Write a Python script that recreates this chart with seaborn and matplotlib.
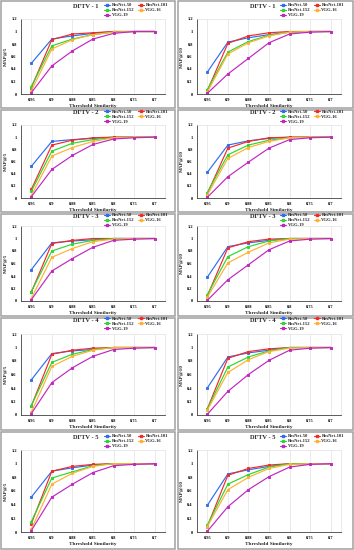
import matplotlib
matplotlib.use("Agg")
import matplotlib.pyplot as plt
from matplotlib.lines import Line2D
from matplotlib.patches import Rectangle
import pandas as pd
import seaborn as sns

thresholds = ["0.95", "0.9", "0.88", "0.85", "0.8", "0.75", "0.7"]
models = ["ResNet-50", "ResNet-101", "ResNet-152", "VGG-16", "VGG-19"]
colors = ["#2f6cf0", "#f42a2a", "#2fd62f", "#ffb133", "#c126c1"]
titles = ["DFTV - 1", "DFTV - 2", "DFTV - 3", "DFTV - 4", "DFTV - 5"]
ylabels = ["MAP@5", "MAP@10"]

# series order: ResNet-50, ResNet-101, ResNet-152, VGG-16, VGG-19
dftv1_map5 = [[0.49, 0.88, 0.93, 0.97, 1.00, 1.00, 1.00],
              [0.10, 0.87, 0.96, 0.98, 1.00, 1.00, 1.00],
              [0.12, 0.77, 0.88, 0.95, 0.99, 1.00, 1.00],
              [0.05, 0.72, 0.87, 0.95, 0.99, 1.00, 1.00],
              [0.02, 0.45, 0.69, 0.88, 0.97, 1.00, 1.00]]
dftv1_map10 = [[0.35, 0.83, 0.90, 0.95, 0.99, 1.00, 1.00],
               [0.05, 0.81, 0.93, 0.98, 1.00, 1.00, 1.00],
               [0.07, 0.67, 0.84, 0.94, 0.99, 1.00, 1.00],
               [0.03, 0.64, 0.82, 0.93, 0.99, 1.00, 1.00],
               [0.01, 0.32, 0.57, 0.82, 0.96, 0.99, 1.00]]
dftv2_map5 = [[0.52, 0.93, 0.96, 0.98, 1.00, 1.00, 1.00],
              [0.14, 0.87, 0.95, 0.99, 1.00, 1.00, 1.00],
              [0.11, 0.77, 0.90, 0.96, 0.99, 1.00, 1.00],
              [0.04, 0.69, 0.83, 0.93, 0.99, 1.00, 1.00],
              [0.02, 0.47, 0.70, 0.88, 0.97, 0.99, 1.00]]
dftv2_map10 = [[0.42, 0.87, 0.94, 0.98, 1.00, 1.00, 1.00],
               [0.07, 0.82, 0.93, 0.99, 1.00, 1.00, 1.00],
               [0.09, 0.71, 0.87, 0.95, 0.99, 1.00, 1.00],
               [0.05, 0.65, 0.83, 0.93, 0.99, 1.00, 1.00],
               [0.01, 0.35, 0.59, 0.82, 0.96, 0.99, 1.00]]
dftv3_map5 = [[0.50, 0.93, 0.96, 0.98, 1.00, 1.00, 1.00],
              [0.14, 0.92, 0.97, 1.00, 1.00, 1.00, 1.00],
              [0.15, 0.80, 0.91, 0.97, 1.00, 1.00, 1.00],
              [0.04, 0.70, 0.84, 0.95, 0.99, 1.00, 1.00],
              [0.02, 0.48, 0.68, 0.86, 0.97, 0.99, 1.00]]
dftv3_map10 = [[0.38, 0.87, 0.93, 0.97, 1.00, 1.00, 1.00],
               [0.08, 0.85, 0.95, 0.99, 1.00, 1.00, 1.00],
               [0.10, 0.71, 0.87, 0.96, 1.00, 1.00, 1.00],
               [0.06, 0.61, 0.78, 0.93, 0.99, 1.00, 1.00],
               [0.01, 0.34, 0.58, 0.82, 0.96, 0.99, 1.00]]
dftv4_map5 = [[0.52, 0.91, 0.95, 0.97, 1.00, 1.00, 1.00],
              [0.13, 0.90, 0.96, 0.99, 1.00, 1.00, 1.00],
              [0.14, 0.78, 0.90, 0.97, 1.00, 1.00, 1.00],
              [0.04, 0.72, 0.87, 0.96, 1.00, 1.00, 1.00],
              [0.02, 0.48, 0.70, 0.87, 0.97, 0.99, 1.00]]
dftv4_map10 = [[0.40, 0.86, 0.92, 0.96, 1.00, 1.00, 1.00],
               [0.09, 0.84, 0.94, 0.98, 1.00, 1.00, 1.00],
               [0.09, 0.71, 0.86, 0.95, 1.00, 1.00, 1.00],
               [0.07, 0.63, 0.82, 0.94, 0.99, 1.00, 1.00],
               [0.01, 0.35, 0.60, 0.81, 0.96, 0.99, 1.00]]
dftv5_map5 = [[0.51, 0.89, 0.94, 0.98, 1.00, 1.00, 1.00],
              [0.12, 0.89, 0.96, 0.99, 1.00, 1.00, 1.00],
              [0.15, 0.79, 0.88, 0.97, 1.00, 1.00, 1.00],
              [0.04, 0.70, 0.86, 0.96, 1.00, 1.00, 1.00],
              [0.02, 0.51, 0.70, 0.87, 0.97, 0.99, 1.00]]
dftv5_map10 = [[0.39, 0.85, 0.91, 0.96, 1.00, 1.00, 1.00],
               [0.08, 0.83, 0.93, 0.98, 1.00, 1.00, 1.00],
               [0.10, 0.70, 0.84, 0.95, 1.00, 1.00, 1.00],
               [0.08, 0.62, 0.80, 0.93, 0.99, 1.00, 1.00],
               [0.01, 0.37, 0.62, 0.81, 0.95, 0.99, 1.00]]

panels = [[dftv1_map5, dftv1_map10], [dftv2_map5, dftv2_map10],
          [dftv3_map5, dftv3_map10], [dftv4_map5, dftv4_map10],
          [dftv5_map5, dftv5_map10]]

sns.set_style("white")
plt.rcParams["font.family"] = ["Liberation Serif", "DejaVu Serif"]
plt.rcParams["font.weight"] = "bold"

W, H = 354.0, 550.0
fig = plt.figure(figsize=(W / 100, H / 100), dpi=100)
fig.patch.set_facecolor("white")

# layout in pixels
col_axes_x = [(21, 165), (197, 341)]
col_box_x = [(1, 175), (178, 353)]
row_axes_y = [(19, 94), (125, 198), (226, 301), (334, 415), (450, 532)]
row_box_y = [(1, 108), (110, 212), (214, 316), (318, 430), (432, 549)]
row_title_y = [6.5, 113, 216.5, 320, 437.5]
col_title_x = [86, 263]
col_legend_x = [104, 280]


def fx(px):
    return px / W


def fy(py):
    return 1 - py / H


for r in range(5):
    for c in range(2):
        bx0, bx1 = col_box_x[c]
        by0, by1 = row_box_y[r]
        fig.patches.append(Rectangle((fx(bx0), fy(by1)), fx(bx1 - bx0), (by1 - by0) / H,
                                     transform=fig.transFigure, facecolor="none",
                                     edgecolor="#a0a0a0", linewidth=1.1, zorder=-10))
        ax0, ax1 = col_axes_x[c]
        ay0, ay1 = row_axes_y[r]
        ax = fig.add_axes([fx(ax0), fy(ay1), fx(ax1 - ax0), (ay1 - ay0) / H])
        ax.set_facecolor("none")
        series = panels[r][c]
        df = pd.DataFrame([
            {"Threshold": thresholds[i], "value": series[m][i], "model": models[m]}
            for m in range(len(models)) for i in range(len(thresholds))
        ])
        sns.pointplot(data=df, x="Threshold", y="value", hue="model", order=thresholds,
                      hue_order=models, palette=colors, markers="s", markersize=1.9,
                      linewidth=0.85, errorbar=None, legend=False, ax=ax)
        ax.set_xlim(-0.5, len(thresholds) - 0.5)
        ax.set_ylim(0, 1.2)
        ax.set_yticks([0, 0.2, 0.4, 0.6, 0.8, 1.0, 1.2])
        ax.set_yticklabels(["0", "0.2", "0.4", "0.6", "0.8", "1", "1.2"])
        ax.tick_params(axis="both", labelsize=3.2, length=1.5, width=0.5, pad=1.5,
                       colors="black")
        ax.tick_params(axis="x", length=0, pad=3)
        for lab in ax.get_xticklabels() + ax.get_yticklabels():
            lab.set_fontweight("bold")
        ax.grid(axis="x", color="#e2e2e2", linewidth=0.5)
        ax.set_axisbelow(True)
        for side in ["top", "right"]:
            ax.spines[side].set_color("#e2e2e2")
            ax.spines[side].set_linewidth(0.5)
        for side in ["left", "bottom"]:
            ax.spines[side].set_color("#404040")
            ax.spines[side].set_linewidth(0.6)
        ax.set_xlabel("Threshold Similarity", fontsize=3.8, fontweight="bold", labelpad=1.5)
        ax.set_ylabel(ylabels[c], fontsize=3.8, fontweight="bold", labelpad=2)
        # title
        fig.text(fx(col_title_x[c]), fy(row_title_y[r]), titles[r], ha="center", va="center",
                 fontsize=4.6, fontweight="bold")
        # legend, row-wise order
        handles = [Line2D([0], [0], color=colors[m], marker="s", markersize=1.8,
                          linewidth=0.8) for m in range(len(models))]
        order = [0, 2, 4, 1, 3]
        leg = ax.legend([handles[i] for i in order], [models[i] for i in order],
                        ncol=2, loc="upper left",
                        bbox_to_anchor=(fx(col_legend_x[c]), fy(row_title_y[r] - 3.5)),
                        bbox_transform=fig.transFigure, frameon=False,
                        fontsize=3.3, handlelength=1.4, handletextpad=0.3,
                        columnspacing=0.7, labelspacing=0.2, borderpad=0,
                        borderaxespad=0)
        for t in leg.get_texts():
            t.set_fontweight("bold")

fig.savefig("out.png", dpi=100, facecolor="white")
